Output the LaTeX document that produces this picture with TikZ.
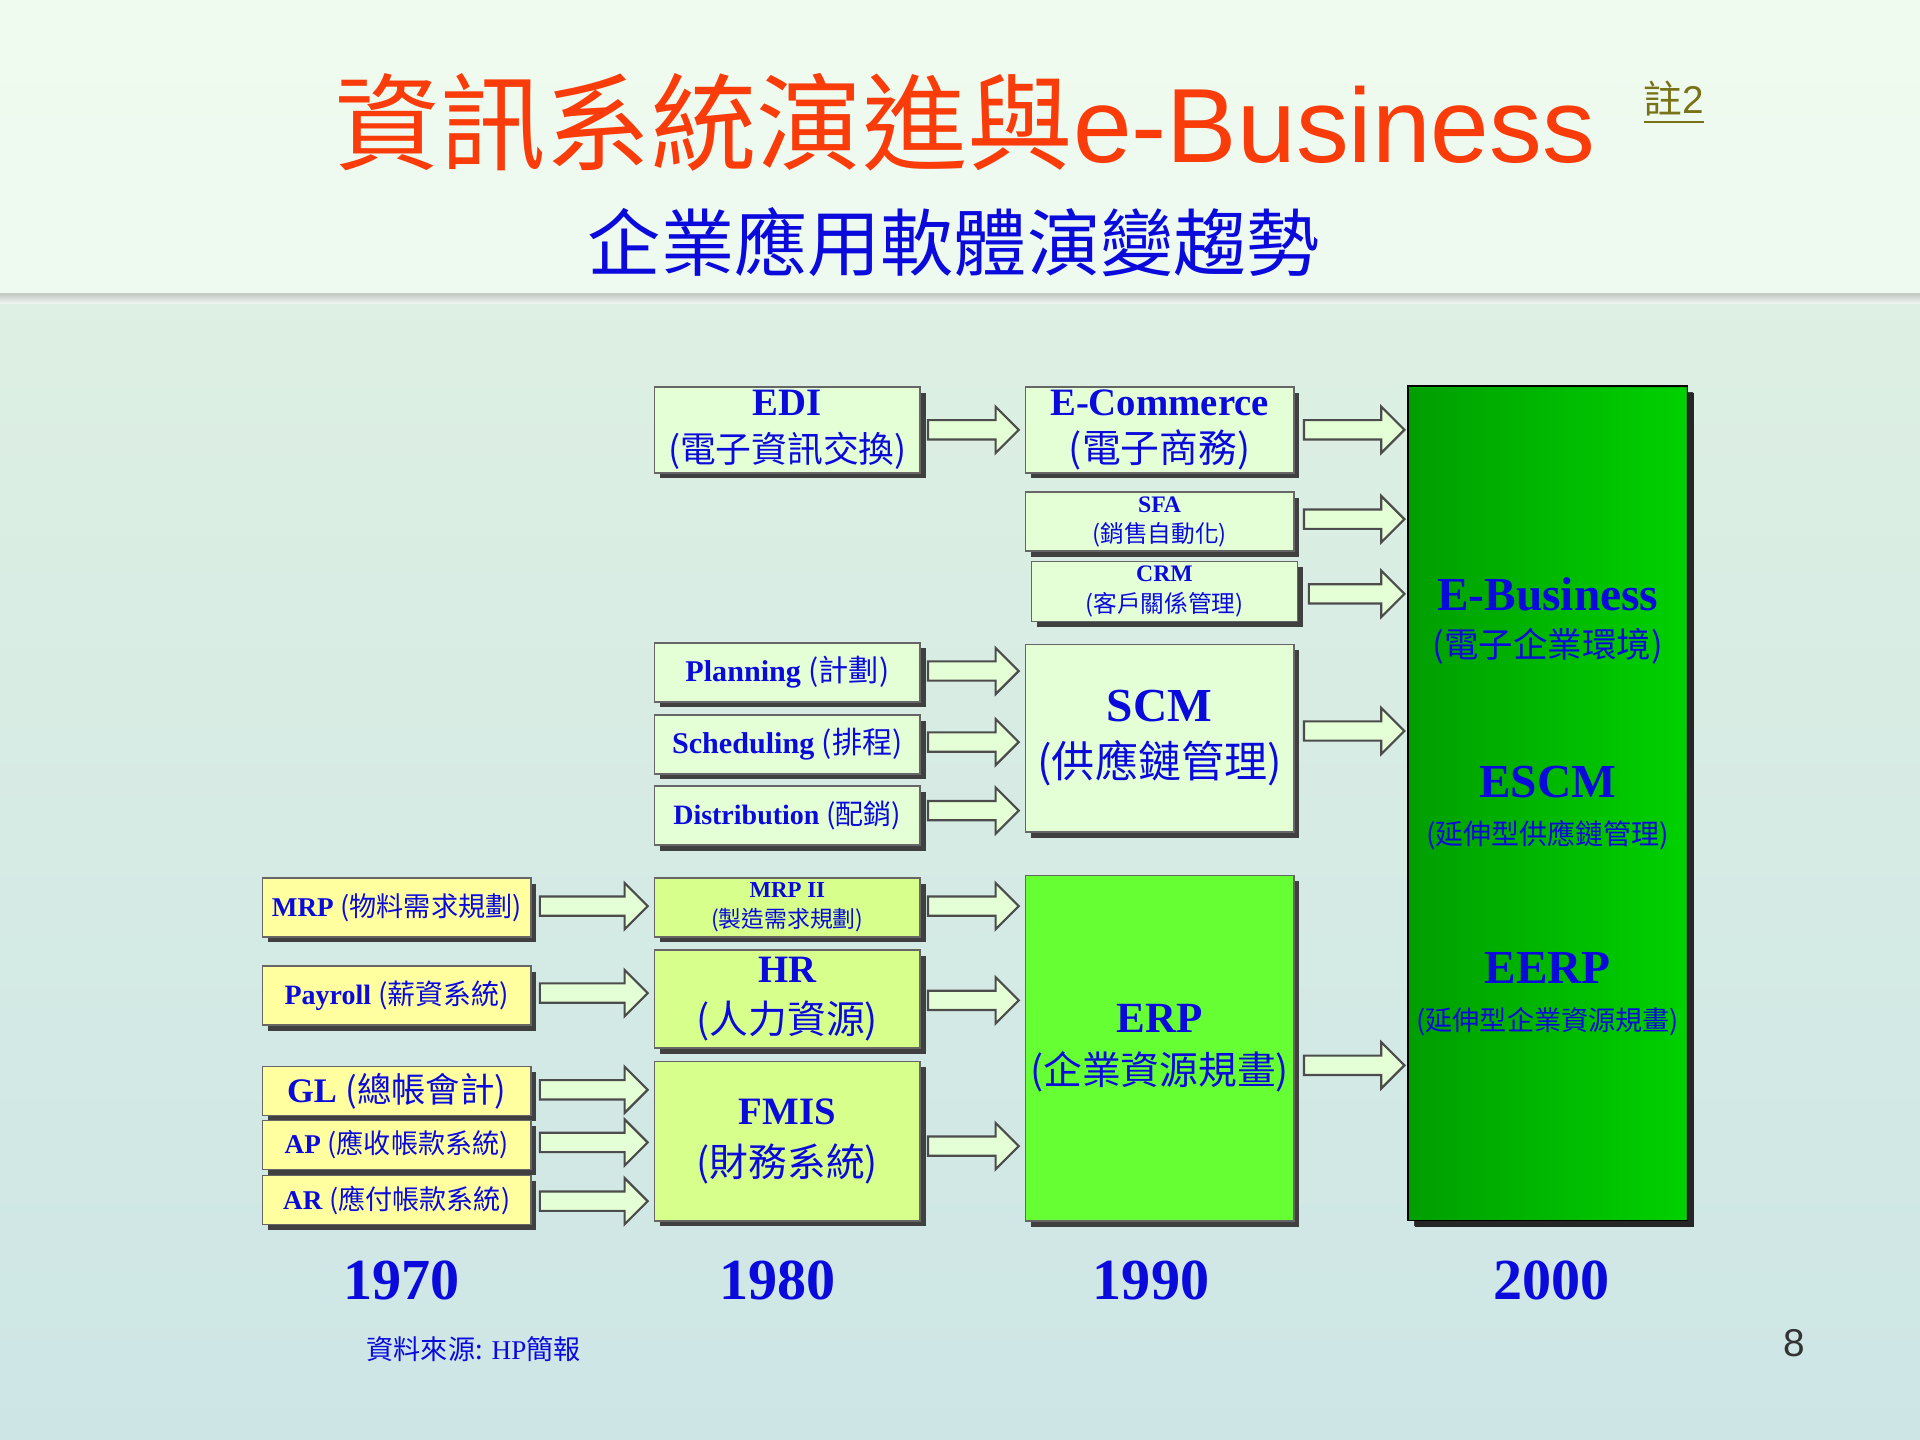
\documentclass[tikz,border=0pt]{standalone}
\usepackage{fontspec}
\setmainfont{Liberation Serif}
\newfontfamily\cjk{Noto Sans CJK TC}
\newfontfamily\arial{Liberation Sans}
\usetikzlibrary{shapes.arrows,shadows}
\definecolor{tblue}{RGB}{10,10,220}
\definecolor{lgreen}{RGB}{228,255,214}
\definecolor{lyellow}{RGB}{255,255,160}
\definecolor{mgreen}{RGB}{214,255,140}
\definecolor{bgreen}{RGB}{102,255,51}
\definecolor{ttl}{RGB}{250,60,10}
\newcommand{\fs}[1]{\fontsize{#1}{#1}\selectfont}
\begin{document}
\begin{tikzpicture}[x=0.01cm,y=-0.01cm,
 bx/.style={draw=black!60,line width=0.4pt,fill=lgreen,text=tblue,align=center,inner sep=0pt,
   drop shadow={shadow xshift=1.3pt,shadow yshift=-1.3pt,fill=black!75,opacity=1}},
 arr/.style={single arrow,draw=black!70,fill=lgreen,line width=0.5pt,
   inner xsep=0pt,inner ysep=0.07cm,single arrow head extend=0.11cm,single arrow tip angle=90}]
\shade[top color=white!93!green!90!gray,bottom color=white!88!cyan!80!gray] (0,0) rectangle (1568,1176);
\fill[white!96!green,opacity=0.7] (0,0) rectangle (1568,240);
\shade[top color=black!30,bottom color=white!0,opacity=0.6] (0,240) rectangle (1568,248);
\useasboundingbox (0,0) rectangle (1568,1176);
\node[text=ttl,inner sep=0] (title) at (788,100) {\fontsize{24.5}{28}\selectfont\cjk 資訊系統演進與\arial e-Business};
\node[text=olive!80!black,inner sep=1pt] (note) at (1367,84) {\fontsize{9}{10}\selectfont\arial\underline{\cjk 註\arial 2}};
\node[text=tblue] (sub) at (779,198) {\fontsize{17}{20}\selectfont\cjk 企業應用軟體演變趨勢};
% big box
\node[bx,draw=black,fill=green!70!black,drop shadow={shadow xshift=1.5pt,shadow yshift=-1.5pt,fill=black!85,opacity=1},minimum width=2.28cm,minimum height=6.81cm] (eb) at (1264,656) {};
\shade[left color=green!62!black,right color=green!82!black] (1151,317) rectangle (1377,996);
\node[text=tblue,align=center,font=\fs{11}] (ebt) at (1264,507) {\bfseries E-Business\\[0pt]\fs{8}\cjk (電子企業環境)};
\node[text=tblue,align=center,font=\fs{11}] (esc) at (1264,660) {\bfseries ESCM\\[0pt]\fs{6.5}\cjk (延伸型供應鏈管理)};
\node[text=tblue,align=center,font=\fs{11}] (eerp) at (1264,812) {\bfseries EERP\\[0pt]\fs{6.3}\cjk (延伸型企業資源規畫)};
% 1990
\node[bx,minimum width=2.19cm,minimum height=0.7cm,font=\fs{9}] (ec) at (947,351) {\bfseries E-Commerce\\[2pt]\cjk (電子商務)};
\node[bx,minimum width=2.19cm,minimum height=0.48cm,font=\fs{5.5}] (sfa) at (947,426) {\bfseries SFA\\[1.5pt]\cjk (銷售自動化)};
\node[bx,minimum width=2.17cm,minimum height=0.49cm,font=\fs{5.5}] (crm) at (951,483) {\bfseries CRM\\[1.5pt]\cjk (客戶關係管理)};
\node[bx,minimum width=2.19cm,minimum height=1.53cm,font=\fs{11}] (scm) at (947,603) {\bfseries SCM\\[2pt]\fs{10}\cjk (供應鏈管理)};
\node[bx,fill=bgreen,minimum width=2.19cm,minimum height=2.82cm,font=\fs{10}] (erp) at (947,856) {\bfseries ERP\\[2pt]\fs{9}\cjk (企業資源規畫)};
% 1980
\node[bx,minimum width=2.17cm,minimum height=0.7cm,font=\fs{9}] (edi) at (643,351) {\bfseries EDI\\[2pt]\fs{8.3}\cjk (電子資訊交換)};
\node[bx,minimum width=2.17cm,minimum height=0.48cm,font=\fs{7}] (pl) at (643,549) {\bfseries Planning {\cjk\mdseries (計劃)}};
\node[bx,minimum width=2.17cm,minimum height=0.48cm,font=\fs{7}] (sc) at (643,608) {\bfseries Scheduling {\cjk\mdseries (排程)}};
\node[bx,minimum width=2.17cm,minimum height=0.48cm,font=\fs{6.5}] (di) at (643,666) {\bfseries Distribution {\cjk\mdseries (配銷)}};
\node[bx,fill=mgreen,minimum width=2.17cm,minimum height=0.48cm,font=\fs{5.3}] (mrp2) at (643,741) {\bfseries MRP II\\[1.5pt]\cjk (製造需求規劃)};
\node[bx,fill=mgreen,minimum width=2.17cm,minimum height=0.8cm,font=\fs{9}] (hr) at (643,816) {\bfseries HR\\[3pt]\cjk (人力資源)};
\node[bx,fill=mgreen,minimum width=2.17cm,minimum height=1.3cm,font=\fs{9}] (fm) at (643,932) {\bfseries FMIS\\[3pt]\cjk (財務系統)};
% 1970
\node[bx,fill=lyellow,minimum width=2.19cm,minimum height=0.48cm,font=\fs{6.3}] (mrp) at (324,741) {\bfseries MRP {\cjk\mdseries (物料需求規劃)}};
\node[bx,fill=lyellow,minimum width=2.19cm,minimum height=0.48cm,font=\fs{6.5}] (pay) at (324,813) {\bfseries Payroll {\cjk\mdseries (薪資系統)}};
\node[bx,fill=lyellow,minimum width=2.19cm,minimum height=0.4cm,font=\fs{8}] (gl) at (324,891) {\bfseries GL {\cjk\mdseries (總帳會計)}};
\node[bx,fill=lyellow,minimum width=2.19cm,minimum height=0.4cm,font=\fs{6.3}] (ap) at (324,935) {\bfseries AP {\cjk\mdseries (應收帳款系統)}};
\node[bx,fill=lyellow,minimum width=2.19cm,minimum height=0.4cm,font=\fs{6.3}] (ar) at (324,980) {\bfseries AR {\cjk\mdseries (應付帳款系統)}};
% arrows
\foreach \n/\x/\y/\l in {a1/791/351/0.74,a2/791/548/0.74,a3/791/606/0.74,a4/791/662/0.74,a5/791/740/0.74,a6/791/817/0.74,a7/791/936/0.74,
  b1/1102/351/0.82,b2/1102/424/0.82,b3/1104/485/0.78,b4/1102/597/0.82,b5/1102/870/0.82,
  c1/481/740/0.88,c2/481/811/0.88,c3/481/890/0.88,c4/481/933/0.88,c5/481/981/0.88}
  \node[arr,minimum height=\l cm] (\n) at (\x,\y) {};
% years
\foreach \n/\x/\t in {y1/328/1970,y2/635/1980,y3/940/1990,y4/1267/2000}
  \node[text=tblue,font=\fontsize{13.5}{16}\selectfont\bfseries] (\n) at (\x,1046) {\t};
\node[text=tblue,anchor=west] (src) at (287,1102) {\fontsize{6.3}{8}\selectfont{\cjk 資料來源:} HP{\cjk 簡報}};
\node[text=black!80] (pg) at (1465,1097) {\fontsize{9}{11}\selectfont\arial 8};
\end{tikzpicture}
\end{document}
